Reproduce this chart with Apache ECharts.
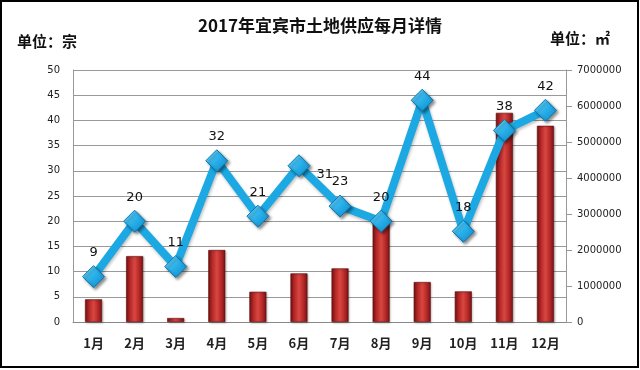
<!DOCTYPE html>
<html>
<head>
<meta charset="utf-8">
<script src="https://cdn.jsdelivr.net/npm/echarts@6/dist/echarts.min.js"></script>
<style>
html,body{margin:0;padding:0;background:#fff;}
#c{width:640px;height:370px;}
</style>
</head>
<body>
<div id="c"></div>
<script>
var months = ['1月','2月','3月','4月','5月','6月','7月','8月','9月','10月','11月','12月'];
var landCount = [9, 20, 11, 32, 21, 31, 23, 20, 44, 18, 38, 42];
var landArea = [630000, 1830000, 110000, 2000000, 840000, 1350000, 1490000, 2830000, 1110000, 850000, 5810000, 5450000];
var leftTicks = {min: 0, max: 50, interval: 5};
var rightTicks = {min: 0, max: 7000000, interval: 1000000};

var cjk = '"Noto Sans CJK SC", sans-serif';
var num = '"DejaVu Sans", Verdana, sans-serif';

var chart = echarts.init(document.getElementById('c'), null, {renderer: 'canvas'});

var lineData = landCount.map(function (v, i) {
  var d = {value: v};
  if (i === 5) {
    d.label = {position: 'right', distance: 6, offset: [0, 9]};
  }
  return d;
});

var barColor = new echarts.graphic.LinearGradient(0, 0, 1, 0, [
  {offset: 0, color: '#7a1212'},
  {offset: 0.25, color: '#b8292a'},
  {offset: 0.5, color: '#d8473f'},
  {offset: 0.75, color: '#b8292a'},
  {offset: 1, color: '#7a1212'}
]);

var markerColor = new echarts.graphic.LinearGradient(0, 0, 1, 1, [
  {offset: 0, color: '#7fd8fb'},
  {offset: 0.5, color: '#28b0ea'},
  {offset: 1, color: '#0b86c6'}
]);

chart.setOption({
  animation: false,
  backgroundColor: '#fff',
  title: {
    text: '2017年宜宾市土地供应每月详情',
    left: 'center',
    top: 12,
    textStyle: {fontFamily: cjk, fontSize: 17, fontWeight: 'bold', color: '#111'}
  },
  graphic: [
    {type: 'rect', shape: {x: 1, y: 1, width: 637, height: 366},
     style: {fill: 'none', stroke: '#000', lineWidth: 2}, silent: true, z: 100},
    {type: 'text', left: 17, top: 34,
     style: {text: '单位：宗', font: 'bold 15px "Noto Sans CJK SC"', fill: '#111'}},
    {type: 'text', left: 550, top: 31,
     style: {text: '单位：㎡', font: 'bold 15px "Noto Sans CJK SC"', fill: '#111'}}
  ],
  grid: {left: 73, right: 74, top: 70, bottom: 48, containLabel: false},
  xAxis: {
    type: 'category',
    data: months,
    axisLine: {lineStyle: {color: '#888', width: 1}},
    axisTick: {show: false},
    axisLabel: {margin: 15, fontFamily: cjk, fontSize: 13, fontWeight: 'bold', color: '#222'}
  },
  yAxis: [
    {
      type: 'value',
      min: leftTicks.min, max: leftTicks.max, interval: leftTicks.interval,
      axisLine: {show: true, lineStyle: {color: '#999'}},
      axisTick: {show: false},
      splitLine: {lineStyle: {color: '#999', width: 1}},
      axisLabel: {margin: 13, fontFamily: num, fontSize: 10, color: '#222'}
    },
    {
      type: 'value',
      min: rightTicks.min, max: rightTicks.max, interval: rightTicks.interval,
      position: 'right',
      axisLine: {show: true, lineStyle: {color: '#999'}},
      axisTick: {show: true, length: 6, lineStyle: {color: '#999'}},
      splitLine: {show: false},
      axisLabel: {margin: 11, fontFamily: num, fontSize: 10, color: '#222',
                  formatter: function (v) { return String(v); }}
    }
  ],
  series: [
    {
      type: 'bar',
      yAxisIndex: 1,
      data: landArea,
      barWidth: 17,
      itemStyle: {color: barColor, borderColor: '#5e0c0c', borderWidth: 0.6,
                  shadowColor: 'rgba(0,0,0,0.25)', shadowBlur: 2, shadowOffsetX: 1, shadowOffsetY: 1},
      z: 2
    },
    {
      type: 'line',
      yAxisIndex: 0,
      data: lineData,
      symbol: 'diamond',
      symbolSize: 22,
      lineStyle: {color: '#1ba8e3', width: 8, shadowColor: 'rgba(0,0,0,0.25)', shadowBlur: 3, shadowOffsetX: 1, shadowOffsetY: 2},
      itemStyle: {color: markerColor, borderColor: '#0a78b2', borderWidth: 1,
                  shadowColor: 'rgba(0,0,0,0.45)', shadowBlur: 3, shadowOffsetX: 2, shadowOffsetY: 2},
      label: {show: true, position: 'top', distance: 6, fontFamily: num, fontSize: 13, color: '#111'},
      z: 3
    }
  ]
});
</script>
</body>
</html>
